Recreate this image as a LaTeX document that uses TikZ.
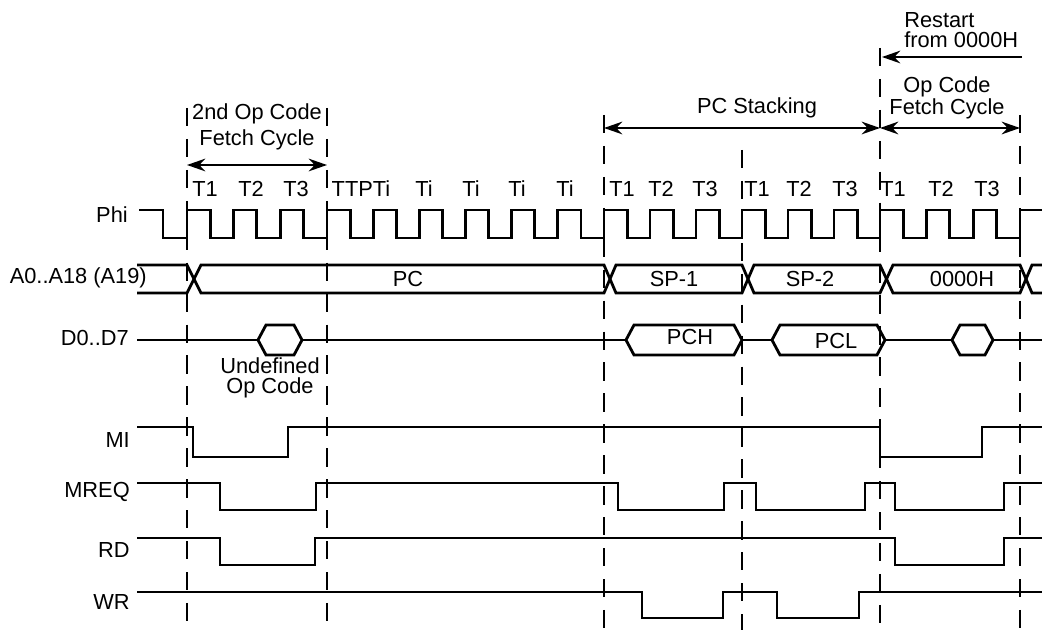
\documentclass[tikz,border=0pt]{standalone}
\usepackage{fontspec}
\setmainfont{Liberation Sans}
\usetikzlibrary{arrows.meta,positioning,calc}

\begin{document}
\begin{tikzpicture}[x=0.025cm, y=-0.025cm,
      sig/.style={line width=2pt, line join=miter},
      grid/.style={line width=1.4pt, dash pattern=on 13pt off 9pt},
      dim/.style={line width=1.5pt, {Stealth[length=13pt,width=9pt]}-{Stealth[length=13pt,width=9pt]}},
      oneway/.style={line width=1.5pt, -{Stealth[length=13pt,width=9pt]}},
      lbl/.style={font=\fontsize{15.5pt}{14.2pt}\selectfont, inner sep=0pt},
      signame/.style={lbl, anchor=east}
    ]
    \useasboundingbox (0,0) rectangle (1042,630);

    \foreach \x/\t in {187/108, 327/108, 604/115, 742/150, 880/48, 1020/115}
      \draw[grid] (\x,\t) -- (\x,630);

    \node[signame] (phi) at (128,215) {Phi};
    \node[signame] (addr) at (147,278) {A0..A18 (A19)};
    \node[signame] (data) at (129,338) {D0..D7};
    \node[signame] (mi) at (130,440) {MI};
    \node[signame] (mreq) at (130,492) {MREQ};
    \node[signame] (rd) at (130,550) {RD};
    \node[signame] (wr) at (130,602) {WR};

    \foreach \x/\t in {205/T1, 251/T2, 296/T3, 361/TTPTi, 424/Ti, 471/Ti, 517/Ti, 565/Ti,
                       622/T1, 661/T2, 705/T3, 757/T1, 799/T2, 845/T3, 893/T1, 941/T2, 987/T3}
      \node[lbl] (t\x) at (\x,189) {\t};

    \node[lbl, align=center] (fetch2) at (257,127) {2nd Op Code\\[3.5pt]Fetch Cycle};
    \node[lbl] (stack) at (757,108) {PC Stacking};
    \node[lbl, align=center] (fetch) at (947,98) {Op Code\\Fetch Cycle};
    \node[lbl, align=left, anchor=west] (restart) at (904,30) {Restart\\from 0000H};

    \coordinate (f1) at (187,165);
    \coordinate (f2) at (327,165);
    \coordinate (s1) at (604,128);
    \coordinate (s2) at (880,128);
    \coordinate (s3) at (1020,128);
    \coordinate (r0) at (882,57);
    \coordinate (r1) at (1022,57);
    \draw[dim] (f1) -- (f2);
    \draw[dim] (s1) -- (s2);
    \draw[dim] (s2) -- (s3);
    \draw[oneway] (r1) -- (r0);

    % clock
    \draw[sig] (139,210) -| (163,238)
      \foreach \r in {187,233.7,280.3,327,373.2,419.3,465.5,511.7,557.8,604,650,696,742,788,834,880,926.7,973.3}
        { -| (\r,210) -| (\r+23.2,238) } -| (1020,210) -- (1042,210);

    % address bus
    \draw[sig] (137,265) -- (187,265) -- (201,293) -- (604,293) -- (616,265) -- (742,265) -- (754,293)
      -- (880,293) -- (893,265) -- (1020,265) -- (1032,293) -- (1042,293);
    \draw[sig] (137,293) -- (187,293) -- (201,265) -- (604,265) -- (616,293) -- (742,293) -- (754,265)
      -- (880,265) -- (893,293) -- (1020,293) -- (1032,265) -- (1042,265);
    \node[lbl] (pc) at (408,279) {PC};
    \node[lbl] (sp1) at (674,279) {SP-1};
    \node[lbl] (sp2) at (810,279) {SP-2};
    \node[lbl] (rst) at (962,279) {0000H};

    % data bus
    \draw[sig] (137,340) -- (258,340) (302,340) -- (626,340) (742,340) -- (772,340)
      (885,340) -- (952,340) (993,340) -- (1042,340);
    \foreach \a/\b in {258/302, 626/742, 772/885, 952/993}
      \draw[sig] (\a,340) -- (\a+8,325) -- (\b-8,325) -- (\b,340) -- (\b-8,355) -- (\a+8,355) -- cycle;
    \node[lbl] (pch) at (690,337) {PCH};
    \node[lbl] (pcl) at (836,341) {PCL};
    \node[lbl, align=center] (undef) at (270,378) {Undefined\\Op Code};

    % control lines
    \draw[sig] (137,427) -| (193,457) -| (288,427) -| (880,457) -| (982,427) -- (1042,427);
    \draw[sig] (137,483) -| (220,510) -| (316,483) -| (618,510) -| (724,483) -| (756,510)
      -| (865,483) -| (895,510) -| (1004,483) -- (1042,483);
    \draw[sig] (137,538) -| (220,565) -| (315,538) -| (895,565) -| (1004,538) -- (1042,538);
    \draw[sig] (137,592) -| (642,618) -| (723,592) -| (777,618) -| (859,592) -- (1042,592);
  \end{tikzpicture}
\end{document}
